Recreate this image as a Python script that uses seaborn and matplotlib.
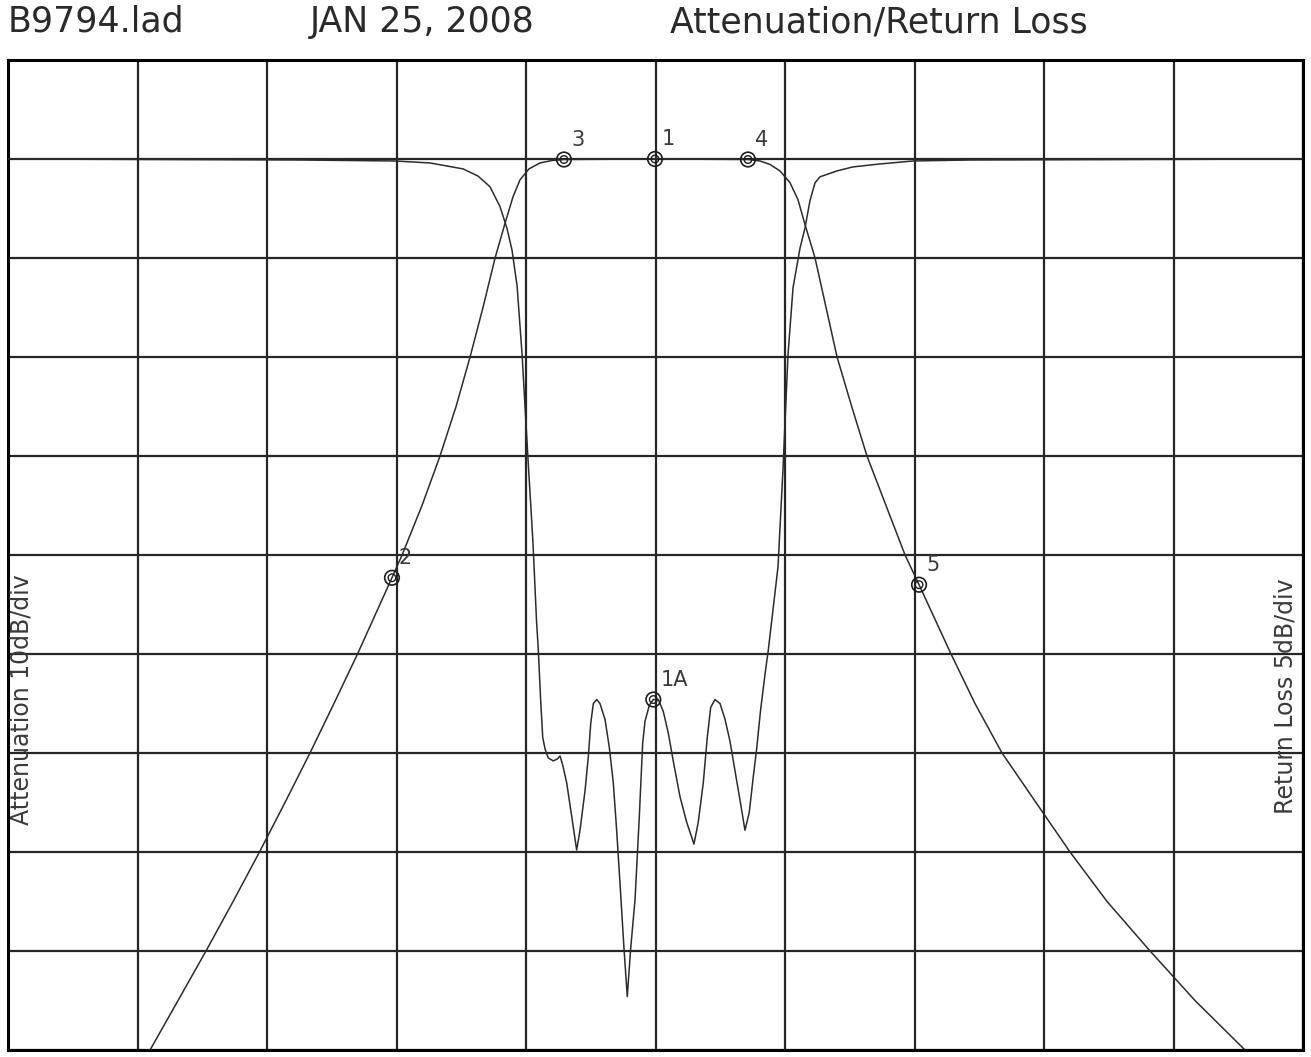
import numpy as np
import matplotlib
matplotlib.use("Agg")
import matplotlib.pyplot as plt
import seaborn as sns

sns.set_theme(style="white")
plt.rcParams['font.family'] = ['DejaVu Sans']

# frequency axis in grid divisions (0..10), values in dB below reference
atten_freq = [1.050, 1.097, 1.313, 1.529, 1.738, 1.942, 2.139, 2.332, 2.517, 2.699,
              2.965, 3.043, 3.197, 3.336, 3.460, 3.568, 3.668, 3.761, 3.838, 3.900,
              3.954, 4.023, 4.108, 4.201, 4.293, 4.996, 5.714, 5.807, 5.884, 5.961,
              6.039, 6.100, 6.154, 6.232, 6.317, 6.402, 6.515, 6.633, 6.780, 6.927,
              7.035, 7.282, 7.467, 7.676, 7.938, 8.201, 8.487, 8.819, 9.166, 9.552,
              9.640]
atten_db = [90.8, 90.0, 85.0, 80.0, 75.0, 70.0, 65.0, 60.0, 55.0, 50.0,
            42.3, 40.0, 35.0, 30.0, 25.0, 20.0, 15.0, 10.0, 6.5, 3.8,
            2.1, 1.0, 0.4, 0.15, 0.05, 0.0, 0.05, 0.2, 0.55, 1.2,
            2.4, 4.1, 6.6, 10.0, 15.0, 20.0, 25.0, 30.0, 35.0, 40.0,
            43.0, 50.0, 55.0, 60.0, 65.0, 70.0, 75.0, 80.0, 85.0, 90.0,
            90.9]

rl_freq = [0.000, 2.255, 2.988, 3.259, 3.514, 3.629, 3.722, 3.799, 3.853, 3.892,
           3.931, 3.969, 4.015, 4.054, 4.081, 4.095, 4.113, 4.129, 4.147, 4.172,
           4.211, 4.242, 4.263, 4.283, 4.314, 4.353, 4.391, 4.417, 4.456, 4.481,
           4.500, 4.520, 4.546, 4.571, 4.610, 4.643, 4.674, 4.700, 4.726, 4.757,
           4.782, 4.808, 4.842, 4.875, 4.901, 4.919, 4.952, 4.983, 5.022, 5.060,
           5.099, 5.137, 5.189, 5.241, 5.297, 5.330, 5.369, 5.400, 5.426, 5.459,
           5.498, 5.537, 5.575, 5.614, 5.653, 5.691, 5.724, 5.755, 5.781, 5.812,
           5.846, 5.871, 5.946, 5.985, 6.023, 6.062, 6.116, 6.154, 6.193, 6.232,
           6.270, 6.402, 6.525, 6.734, 6.988, 7.430, 10.000]
rl_db = [0.0, 0.05, 0.1, 0.2, 0.5, 0.86, 1.4, 2.4, 3.5, 4.6,
         6.4, 9.8, 15.1, 19.4, 23.3, 24.8, 27.3, 29.2, 29.8, 30.25,
         30.4, 30.3, 30.15, 30.6, 31.5, 33.2, 34.9, 33.9, 31.9, 30.2,
         28.5, 27.5, 27.3, 27.5, 28.3, 29.7, 31.5, 33.9, 36.6, 39.9,
         42.3, 39.9, 37.4, 33.2, 29.5, 28.4, 27.6, 27.3, 27.3, 27.9,
         29.0, 30.4, 32.2, 33.5, 34.6, 33.5, 31.5, 29.2, 27.7, 27.3,
         27.5, 28.3, 29.4, 30.9, 32.4, 33.9, 33.0, 31.2, 29.8, 27.8,
         26.0, 24.8, 20.6, 15.6, 9.9, 6.5, 4.5, 3.5, 2.1, 1.2,
         0.9, 0.6, 0.4, 0.25, 0.1, 0.05, 0.0]

marker_labels = ["1", "2", "3", "4", "5"]
marker_freq = [4.996, 2.965, 4.293, 5.714, 7.035]
marker_atten = [0.0, 42.3, 0.05, 0.05, 43.0]

rl_marker_labels = ["1A"]
rl_marker_freq = [4.983]
rl_marker_db = [27.3]

header = ["B9794.lad", "JAN 25, 2008", "Attenuation/Return Loss"]
header_x = [8, 310, 670]

INK = "#1e1e1e"
TRACE = "#2c2c2c"

fig = plt.figure(figsize=(13.11, 10.57), dpi=100)
ax = fig.add_axes([8 / 1311, 7 / 1057, 1295 / 1311, 990 / 1057])

# attenuation: 10 dB/div, 0 dB on the first grid line from the top
ax.set_xlim(0, 10)
ax.set_ylim(90, -10)
ax.set_xticks(range(11))
ax.set_yticks(np.arange(-10, 91, 10))
ax.grid(True, color="#262626", lw=1.6)
ax.tick_params(length=0, labelbottom=False, labelleft=False)
for sp in ax.spines.values():
    sp.set_visible(True)
    sp.set_color("black")
    sp.set_linewidth(2.2)

sns.lineplot(x=atten_freq, y=atten_db, ax=ax, sort=False, estimator=None,
             color=TRACE, lw=1.1)

# return loss: 5 dB/div on the same grid
ax2 = ax.twinx()
ax2.set_ylim(45, -5)
ax2.set_yticks([])
ax2.grid(False)
for sp in ax2.spines.values():
    sp.set_visible(False)

sns.lineplot(x=rl_freq, y=rl_db, ax=ax2, sort=False, estimator=None,
             color=TRACE, lw=1.1)

# markers (circle with a dot)
for a, xs, ys, labels in [(ax, marker_freq, marker_atten, marker_labels),
                          (ax2, rl_marker_freq, rl_marker_db, rl_marker_labels)]:
    sns.scatterplot(x=xs, y=ys, ax=a, s=110, facecolor="none",
                    edgecolor=INK, linewidth=1.2, zorder=5)
    sns.scatterplot(x=xs, y=ys, ax=a, s=30, facecolor="none",
                    edgecolor=INK, linewidth=1.0, zorder=6)
    for xv, yv, lab in zip(xs, ys, labels):
        a.annotate(lab, (xv, yv), xytext=(5, 7), textcoords="offset points",
                   ha="left", va="bottom", fontsize=15, color="#3a3a3a")

ax.text(0.0015, 0.354, "Attenuation 10dB/div", transform=ax.transAxes,
        rotation=90, ha="left", va="center", fontsize=17, color="#3a3a3a")
ax.text(0.9955, 0.357, "Return Loss 5dB/div", transform=ax.transAxes,
        rotation=90, ha="right", va="center", fontsize=17, color="#3a3a3a")

for txt, xp in zip(header, header_x):
    fig.text(xp / 1311, 1 - 22 / 1057, txt, ha="left", va="center",
             fontsize=25, color="#2a2a2a")

fig.savefig("out.png", dpi=100)
